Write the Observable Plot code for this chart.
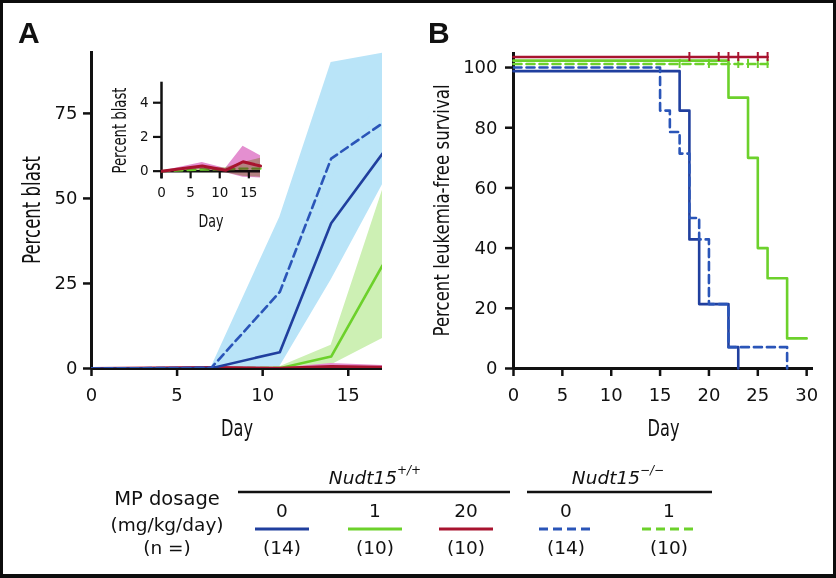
<!DOCTYPE html>
<html>
<head>
<meta charset="utf-8">
<script src="https://cdn.jsdelivr.net/npm/d3@7"></script>
<script src="https://cdn.jsdelivr.net/npm/@observablehq/plot@0.6"></script>
<style>
  html, body { margin: 0; padding: 0; background: #fff; }
  #fig { position: relative; width: 836px; height: 578px; overflow: hidden; background: #fff; }
  #frame { position: absolute; left: 0; top: 0; width: 836px; height: 578px; box-sizing: border-box;
           border: 3px solid #0d0d0d; border-bottom-width: 4px; pointer-events: none; }
</style>
</head>
<body>
<div id="fig"><div id="frame"></div></div>
<script>
// ---------------- DATA ----------------
// Panel A: percent blast over time (mean line with shaded range)
const blastDays = [0, 7, 11, 14, 17];
const wt0Mean = [0, 0.1, 4.8, 42.7, 63.2];
const wt0Lo   = [0, 0, 0.5, 26, 54];
const wt0Hi   = [0, 0.3, 7.3, 56, 80];
const ko0Mean = [0, 0.2, 22.5, 61.7, 72.1];
const ko0Lo   = [0, 0, 2, 30, 58];
const ko0Hi   = [0, 0.4, 44.5, 90, 92.7];
const wt1Mean = [0, 0, 0.1, 3.5, 30.3];
const wt1Lo   = [0, 0, 0, 1, 8.8];
const wt1Hi   = [0, 0, 0.5, 6.8, 52.4];
const ko1Mean = [0, 0.1, 0.1, 0.15, 0.15];
const ko1Lo   = [0, -0.1, -0.1, -0.3, -0.35];
const ko1Hi   = [0, 0.2, 0.2, 0.5, 0.75];
const wt20Mean = [0, 0.3, 0.05, 0.55, 0.3];
const wt20Lo   = [0, 0.1, -0.1, -0.35, -0.4];
const wt20Hi   = [0, 0.5, 0.15, 1.45, 0.9];

const blastYTicks = [0, 25, 50, 75];
const blastXTicks = [0, 5, 10, 15];
const insetYTicks = [0, 2, 4];
const insetXTicks = [0, 5, 10, 15];

// Panel B: Kaplan–Meier leukemia-free survival (curves drawn slightly offset at 100%)
const kmWt0Day  = [0, 17, 18, 19, 22, 23];
const kmWt0Surv = [98.8, 85.7, 42.9, 21.4, 7.1, 0];
const kmKo0Day  = [0, 15, 16, 17, 18, 19, 20, 22, 28];
const kmKo0Surv = [100, 85.7, 78.6, 71.4, 50, 42.9, 21.4, 7.1, 0];
const kmWt1Day  = [0, 22, 24, 25, 26, 28, 30];
const kmWt1Surv = [102.3, 90, 70, 40, 30, 10, 10];
const kmKo1Day  = [0, 26];
const kmKo1Surv = [101.2, 101.2];
const kmKo1Censor = [17, 20, 23, 24, 25, 26];
const kmWt20Day  = [0, 26];
const kmWt20Surv = [103.5, 103.5];
const kmWt20Censor = [18, 21, 22, 23, 25, 26];

const survYTicks = [0, 20, 40, 60, 80, 100];
const survXTicks = [0, 5, 10, 15, 20, 25, 30];

// Legend
const legendDose = ["0", "1", "20", "0", "1"];
const legendN = ["(14)", "(10)", "(10)", "(14)", "(10)"];

// ---------------- STYLE ----------------
const blue = "#203f9e", blueDash = "#2a55b8", green = "#6cd12b", red = "#a8132f";
const blueFill = "#b9e4f8", greenFill = "#cdf0b4", pinkFill = "#e48fd0", oliveFill = "#c9e6a0";
const sans = "'DejaVu Sans', sans-serif";
const dash = "8,5";

const fig = document.getElementById("fig");
const frameEl = document.getElementById("frame");
function place(el, left, top) {
  el.style.position = "absolute";
  el.style.left = left + "px";
  el.style.top = top + "px";
  el.style.maxWidth = "none";
  fig.insertBefore(el, frameEl);
}
// condense a label to a given length (narrow face look)
function fit(plot, content, len) {
  d3.select(plot).selectAll("text")
    .filter(function () { return this.textContent === content; })
    .attr("textLength", len).attr("lengthAdjust", "spacingAndGlyphs");
}

function rows(mean, lo, hi) {
  return blastDays.map((d, i) => ({day: d, mean: mean[i], lo: lo[i], hi: hi[i]}));
}
const wt0 = rows(wt0Mean, wt0Lo, wt0Hi);
const ko0 = rows(ko0Mean, ko0Lo, ko0Hi);
const wt1 = rows(wt1Mean, wt1Lo, wt1Hi);
const ko1 = rows(ko1Mean, ko1Lo, ko1Hi);
const wt20 = rows(wt20Mean, wt20Lo, wt20Hi);

const km = (days, surv) => days.map((d, i) => ({day: d, surv: surv[i]}));

const baseStyle = {fontFamily: sans, background: "transparent", overflow: "visible", color: "#111"};

const vLabel = (txt, dx, size, dy = 0) =>
  Plot.text([txt], {text: d => d, frameAnchor: "left", dx, dy, rotate: -90, textAnchor: "middle", lineAnchor: "middle", fontSize: size});
const hLabel = (txt, dy, size) =>
  Plot.text([txt], {text: d => d, frameAnchor: "bottom", dy, textAnchor: "middle", lineAnchor: "middle", fontSize: size});

// ---------------- PANEL A (main) ----------------
const area = (data, fill, extra = {}) =>
  Plot.areaY(data, {x: "day", y1: "lo", y2: "hi", fill, mixBlendMode: "multiply", clip: true, ...extra});
const line = (data, stroke, dashed, extra = {}) =>
  Plot.line(data, {x: "day", y: "mean", stroke, strokeWidth: 2.6, strokeDasharray: dashed ? dash : null, clip: true, ...extra});

const plotA = Plot.plot({
  width: 420, height: 450,
  marginLeft: 91, marginRight: 38, marginTop: 51, marginBottom: 82,
  x: {domain: [0, 17]},
  y: {domain: [0, 93.2]},
  style: baseStyle,
  marks: [
    area(ko0, blueFill),
    area(wt0, blueFill),
    area(wt1, greenFill),
    area(ko1, oliveFill),
    area(wt20, pinkFill),
    Plot.ruleX([0], {stroke: "#111", strokeWidth: 3}),
    Plot.ruleY([0], {stroke: "#111", strokeWidth: 3}),
    line(ko1, green, true),
    line(wt1, green, false),
    line(wt20, red, false, {strokeWidth: 3.2}),
    line(wt0, blue, false),
    line(ko0, blueDash, true),
    Plot.axisY({ticks: blastYTicks, tickSize: 8, tickPadding: 6, strokeWidth: 2.5, fontSize: 18, label: null}),
    Plot.axisX({ticks: blastXTicks, tickSize: 8, tickPadding: 12, strokeWidth: 2.5, fontSize: 18, label: null}),
    vLabel("Percent blast", -59, 24),
    hLabel("Day", 60, 23)
  ]
});
fit(plotA, "Percent blast", 108);
fit(plotA, "Day", 32);
place(plotA, 0, 0);

// ---------------- PANEL A (inset) ----------------
const plotInset = Plot.plot({
  width: 170, height: 170,
  marginLeft: 61, marginRight: 10, marginTop: 11.7, marginBottom: 61.65,
  x: {domain: [0, 17]},
  y: {domain: [-0.45, 5.2]},
  style: baseStyle,
  marks: [
    area(ko1, oliveFill, {clip: false}),
    Plot.ruleX([0], {stroke: "#111", strokeWidth: 2.5}),
    Plot.ruleY([0], {stroke: "#111", strokeWidth: 2.5}),
    Plot.ruleX(insetXTicks, {x: d => d, y1: 0, y2: -0.45, stroke: "#111", strokeWidth: 2.2}),
    line(ko1, green, true, {clip: false, strokeWidth: 2.4}),
    area(wt20, pinkFill, {clip: false}),
    line(wt20, red, false, {clip: false, strokeWidth: 3}),
    Plot.axisY({ticks: insetYTicks, tickFormat: d => String(d), tickSize: 8, tickPadding: 5, strokeWidth: 2.2, fontSize: 13.5, label: null}),
    Plot.axisX({ticks: insetXTicks, tickFormat: d => String(d), tickSize: 0, tickPadding: 9, fontSize: 13.5, label: null}),
    vLabel("Percent blast", -42, 19, 0),
    hLabel("Day", 42, 18)
  ]
});
fit(plotInset, "Percent blast", 86);
fit(plotInset, "Day", 25);
place(plotInset, 100, 70);

// ---------------- PANEL B ----------------
const step = (data, stroke, dashed) =>
  Plot.line(data, {x: "day", y: "surv", curve: "step-after", stroke, strokeWidth: 2.6, strokeDasharray: dashed ? dash : null});
const censor = (days, y, stroke) =>
  Plot.ruleX(days, {x: d => d, y1: y - 1.5, y2: y + 1.5, stroke, strokeWidth: 2});

const plotB = Plot.plot({
  width: 430, height: 450,
  marginLeft: 107, marginRight: 23, marginTop: 52, marginBottom: 82,
  x: {domain: [0, 30.7]},
  y: {domain: [0, 105]},
  style: baseStyle,
  marks: [
    Plot.ruleX([0], {stroke: "#111", strokeWidth: 3}),
    Plot.ruleY([0], {stroke: "#111", strokeWidth: 3}),
    step(km(kmWt0Day, kmWt0Surv), blue, false),
    step(km(kmKo0Day, kmKo0Surv), blueDash, true),
    step(km(kmKo1Day, kmKo1Surv), green, true),
    censor(kmKo1Censor, kmKo1Surv[0], green),
    step(km(kmWt1Day, kmWt1Surv), green, false),
    step(km(kmWt20Day, kmWt20Surv), red, false),
    censor(kmWt20Censor, kmWt20Surv[0], red),
    Plot.axisY({ticks: survYTicks, tickSize: 8, tickPadding: 8, strokeWidth: 2.5, fontSize: 18, label: null}),
    Plot.axisX({ticks: survXTicks, tickSize: 8, tickPadding: 12, strokeWidth: 2.5, fontSize: 18, label: null}),
    vLabel("Percent leukemia-free survival", -71, 20.5),
    hLabel("Day", 60, 23)
  ]
});
fit(plotB, "Percent leukemia-free survival", 252);
fit(plotB, "Day", 32);
place(plotB, 406, 0);

// ---------------- LETTERS + LEGEND ----------------
const svg = d3.create("svg").attr("width", 836).attr("height", 578)
  .style("font-family", sans).style("fill", "#111");
svg.append("text").attr("x", 18).attr("y", 43.3).text("A")
  .style("font", "bold 30px 'Liberation Sans', Arial, sans-serif");
svg.append("text").attr("x", 428).attr("y", 43.3).text("B")
  .style("font", "bold 30px 'Liberation Sans', Arial, sans-serif");

const lg = svg.append("g").style("font-size", "18.5px").attr("text-anchor", "middle").attr("dominant-baseline", "central");
lg.append("text").attr("x", 167).attr("y", 498).text("MP dosage").style("font-size", "19.5px");
lg.append("text").attr("x", 167).attr("y", 524).text("(mg/kg/day)");
lg.append("text").attr("x", 167).attr("y", 547).text("(n =)");

const genos = [
  {x: 375, x1: 238, x2: 510, sup: "+/+"},
  {x: 618, x1: 527, x2: 712, sup: "\u2212/\u2212"}
];
genos.forEach(g => {
  const t = lg.append("text").attr("x", g.x).attr("y", 477).style("font-style", "italic");
  t.append("tspan").text("Nudt15");
  t.append("tspan").attr("dy", -7).style("font-size", "12px").text(g.sup);
  lg.append("line").attr("x1", g.x1).attr("x2", g.x2).attr("y1", 492).attr("y2", 492)
    .attr("stroke", "#111").attr("stroke-width", 2.5);
});

const legendCols = [282, 375, 466, 566, 669];
const legendColors = [blue, green, red, blueDash, green];
const legendDashed = [false, false, false, true, true];
legendDose.forEach((d, i) => {
  const cx = legendCols[i];
  lg.append("text").attr("x", cx).attr("y", 510).text(d);
  lg.append("line").attr("x1", cx - 27).attr("x2", cx + 27).attr("y1", 529).attr("y2", 529)
    .attr("stroke", legendColors[i]).attr("stroke-width", 2.8)
    .attr("stroke-dasharray", legendDashed[i] ? "9,5" : null);
  lg.append("text").attr("x", cx).attr("y", 547).text(legendN[i]);
});

const legendNode = svg.node();
legendNode.style.position = "absolute";
legendNode.style.left = "0px";
legendNode.style.top = "0px";
fig.insertBefore(legendNode, fig.firstChild);
</script>
</body>
</html>
